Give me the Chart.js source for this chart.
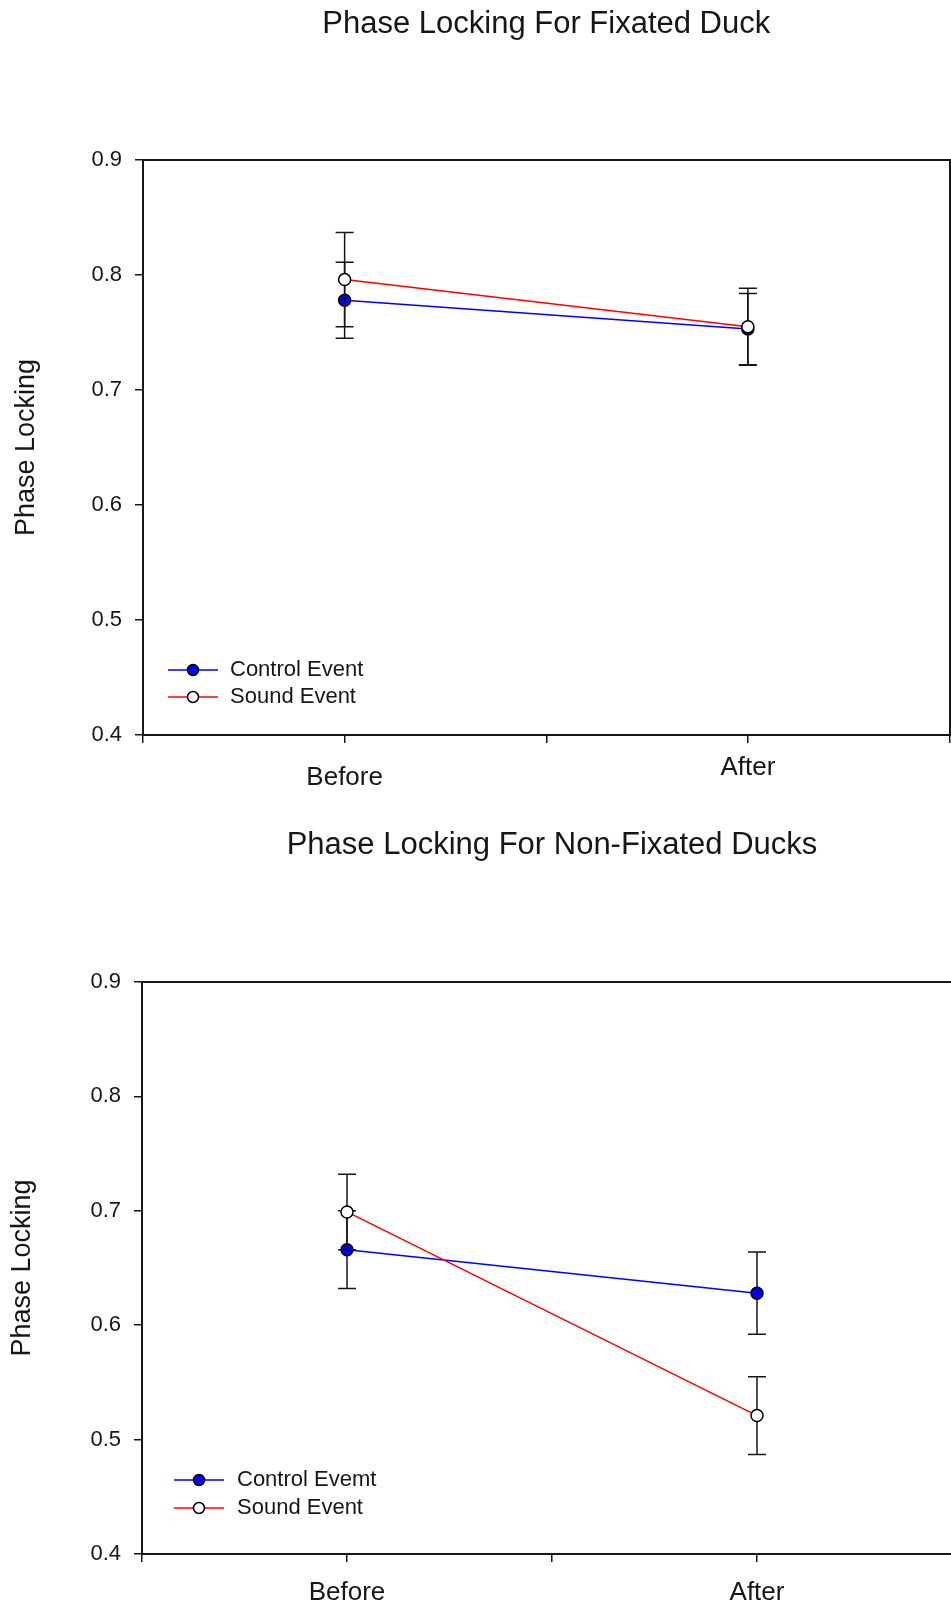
<!DOCTYPE html>
<html><head><meta charset="utf-8">
<script src="https://cdn.jsdelivr.net/npm/chart.js@4.4.0/dist/chart.umd.min.js"></script>
<style>
html,body{margin:0;padding:0;background:#fff;overflow:hidden;width:951px;height:1608px;}
#wrap{position:relative;width:951px;height:1608px;overflow:hidden;background:#fff;}
#c1{position:absolute;left:0;top:0;}
#c2{position:absolute;left:0;top:804px;}
</style></head><body>
<div id="wrap">
<canvas id="c1" width="957" height="804"></canvas>
<canvas id="c2" width="970" height="804"></canvas>
</div>
<script>
// ---- data ----
const categories = ['', 'Before', '', 'After', ''];
const yTickValues = [0.4, 0.5, 0.6, 0.7, 0.8, 0.9];

const title1 = 'Phase Locking For Fixated Duck';
const seriesNames1 = ['Control Event', 'Sound Event'];
const fixControl    = [null, 0.778, null, 0.753, null];
const fixControlErr = [null, 0.033, null, 0.031, null];
const fixSound      = [null, 0.796, null, 0.755, null];
const fixSoundErr   = [null, 0.041, null, 0.0335, null];

const title2 = 'Phase Locking For Non-Fixated Ducks';
const seriesNames2 = ['Control Evemt', 'Sound Event'];
const nonControl    = [null, 0.666, null, 0.628, null];
const nonControlErr = [null, 0.034, null, 0.036, null];
const nonSound      = [null, 0.699, null, 0.521, null];
const nonSoundErr   = [null, 0.033, null, 0.034, null];

const yTitle = 'Phase Locking';

// ---- styling ----
const FONT = "'Liberation Sans', Arial, sans-serif";
const INK = '#161616';

const errorBars = {
  id: 'errorBars',
  beforeDatasetDraw(chart, args, opts) {
    const ds = chart.data.datasets[args.index];
    if (!ds.errors) return;
    const ctx = chart.ctx, xs = chart.scales.x, ys = chart.scales.y;
    ctx.save();
    ctx.strokeStyle = opts.color;
    ctx.lineWidth = opts.width;
    ds.data.forEach((v, i) => {
      const e = ds.errors[i];
      if (v == null || e == null) return;
      const px = xs.getPixelForValue(i);
      const top = ys.getPixelForValue(v + e);
      const bot = ys.getPixelForValue(v - e);
      ctx.beginPath();
      ctx.moveTo(px, top); ctx.lineTo(px, bot);
      ctx.moveTo(px - opts.cap, top); ctx.lineTo(px + opts.cap, top);
      ctx.moveTo(px - opts.cap, bot); ctx.lineTo(px + opts.cap, bot);
      ctx.stroke();
    });
    ctx.restore();
  }
};

const lineLegend = {
  id: 'lineLegend',
  afterDraw(chart, args, o) {
    const ctx = chart.ctx, area = chart.chartArea;
    chart.data.datasets.forEach((ds, i) => {
      const yy = area.bottom - o.bottom + i * o.rowGap;
      const x0 = area.left + o.left, x1 = x0 + o.lineLen, xm = (x0 + x1) / 2;
      ctx.save();
      ctx.strokeStyle = ds.borderColor; ctx.lineWidth = ds.borderWidth;
      ctx.beginPath(); ctx.moveTo(x0, yy); ctx.lineTo(x1, yy); ctx.stroke();
      ctx.beginPath(); ctx.arc(xm, yy, o.radius, 0, Math.PI * 2);
      ctx.fillStyle = ds.pointBackgroundColor; ctx.fill();
      ctx.strokeStyle = ds.pointBorderColor; ctx.lineWidth = ds.pointBorderWidth; ctx.stroke();
      ctx.fillStyle = o.color; ctx.font = o.font;
      ctx.textBaseline = 'middle'; ctx.textAlign = 'left';
      ctx.fillText(ds.label, x1 + o.gap, yy);
      ctx.restore();
    });
  }
};

function build(id, p) {
  const scales = {
    x: {
      type: 'category', position: 'bottom', offset: false,
      grid: { display: true, drawOnChartArea: false, drawTicks: true, tickLength: 8, color: INK, lineWidth: 1.5 },
      border: { display: true, color: INK, width: 2 },
      ticks: { color: INK, padding: 0, maxRotation: 0, autoSkip: false, font: p.xFont },
      afterFit: s => { s.height = p.xHeight; }
    },
    x2: {
      type: 'category', position: 'top', offset: false,
      grid: { display: false, drawTicks: false }, border: { display: true, color: INK, width: 2 },
      ticks: { display: false, padding: 0 },
      title: { display: true, text: p.title, color: INK, font: { family: FONT, size: 31 }, padding: { top: p.titlePad, bottom: 0 } },
      afterFit: s => { s.height = p.topHeight; }
    },
    y: {
      type: 'linear', position: 'left', min: 0.4, max: 0.9,
      afterBuildTicks: s => { s.ticks = yTickValues.map(v => ({ value: v })); },
      grid: { display: true, drawOnChartArea: false, drawTicks: true, tickLength: 8, color: INK, lineWidth: 1.5 },
      border: { display: true, color: INK, width: 2 },
      ticks: { color: INK, padding: 13, font: { family: FONT, size: 22 }, callback: v => Number(v).toFixed(1) },
      title: { display: true, text: yTitle, color: INK, font: { family: FONT, size: 27 }, padding: { top: p.yTitlePad, bottom: 0 } },
      afterFit: s => { s.width = p.yWidth; }
    }
  };
  if (p.rightBorder) {
    scales.y2 = {
      type: 'linear', position: 'right',
      grid: { display: false, drawTicks: false, tickLength: 0 }, border: { display: true, color: INK, width: 2 },
      ticks: { display: false, padding: 0 },
      afterFit: s => { s.width = 0; }
    };
  }
  const common = { borderWidth: 1.5, pointRadius: 6, pointHoverRadius: 6, pointBorderColor: '#000', pointBorderWidth: 1.5, spanGaps: true, tension: 0, fill: false };
  return new Chart(document.getElementById(id), {
    type: 'line',
    data: {
      labels: categories,
      datasets: [
        Object.assign({ label: p.names[0], data: p.control, errors: p.controlErr, order: 1, borderColor: '#0000ff', backgroundColor: '#0000ff', pointBackgroundColor: '#0000ff' }, common),
        Object.assign({ label: p.names[1], data: p.sound, errors: p.soundErr, order: 0, borderColor: '#ff0000', backgroundColor: '#ff0000', pointBackgroundColor: '#ffffff' }, common)
      ]
    },
    options: {
      responsive: false, animation: false, events: [],
      layout: { padding: { left: 0, top: 0, right: p.padRight, bottom: 0 } },
      scales: scales,
      plugins: {
        legend: { display: false }, tooltip: { enabled: false }, title: { display: false },
        errorBars: { color: INK, width: 1.5, cap: 9 },
        lineLegend: Object.assign({ color: INK, font: '22px ' + FONT, radius: 5.5, lineLen: 50 }, p.legend)
      }
    },
    plugins: [errorBars, lineLegend]
  });
}

build('c1', {
  title: title1, names: seriesNames1,
  control: fixControl, controlErr: fixControlErr, sound: fixSound, soundErr: fixSoundErr,
  yWidth: 143, topHeight: 160, titlePad: 6, xHeight: 69, padRight: 1, yTitlePad: 10,
  rightBorder: true,
  xFont: c => ({ family: FONT, size: 26, lineHeight: (c && c.tick && c.tick.label === 'Before') ? 2.654 : 1.946 }),
  legend: { left: 25, gap: 12, bottom: 65, rowGap: 27 }
});

build('c2', {
  title: title2, names: seriesNames2,
  control: nonControl, controlErr: nonControlErr, sound: nonSound, soundErr: nonSoundErr,
  yWidth: 142, topHeight: 178, titlePad: 23, xHeight: 54, padRight: 8, yTitlePad: 6,
  rightBorder: false,
  xFont: { family: FONT, size: 26, lineHeight: 2.385 },
  legend: { left: 32, gap: 13, bottom: 74, rowGap: 28 }
});
</script>
</body></html>
